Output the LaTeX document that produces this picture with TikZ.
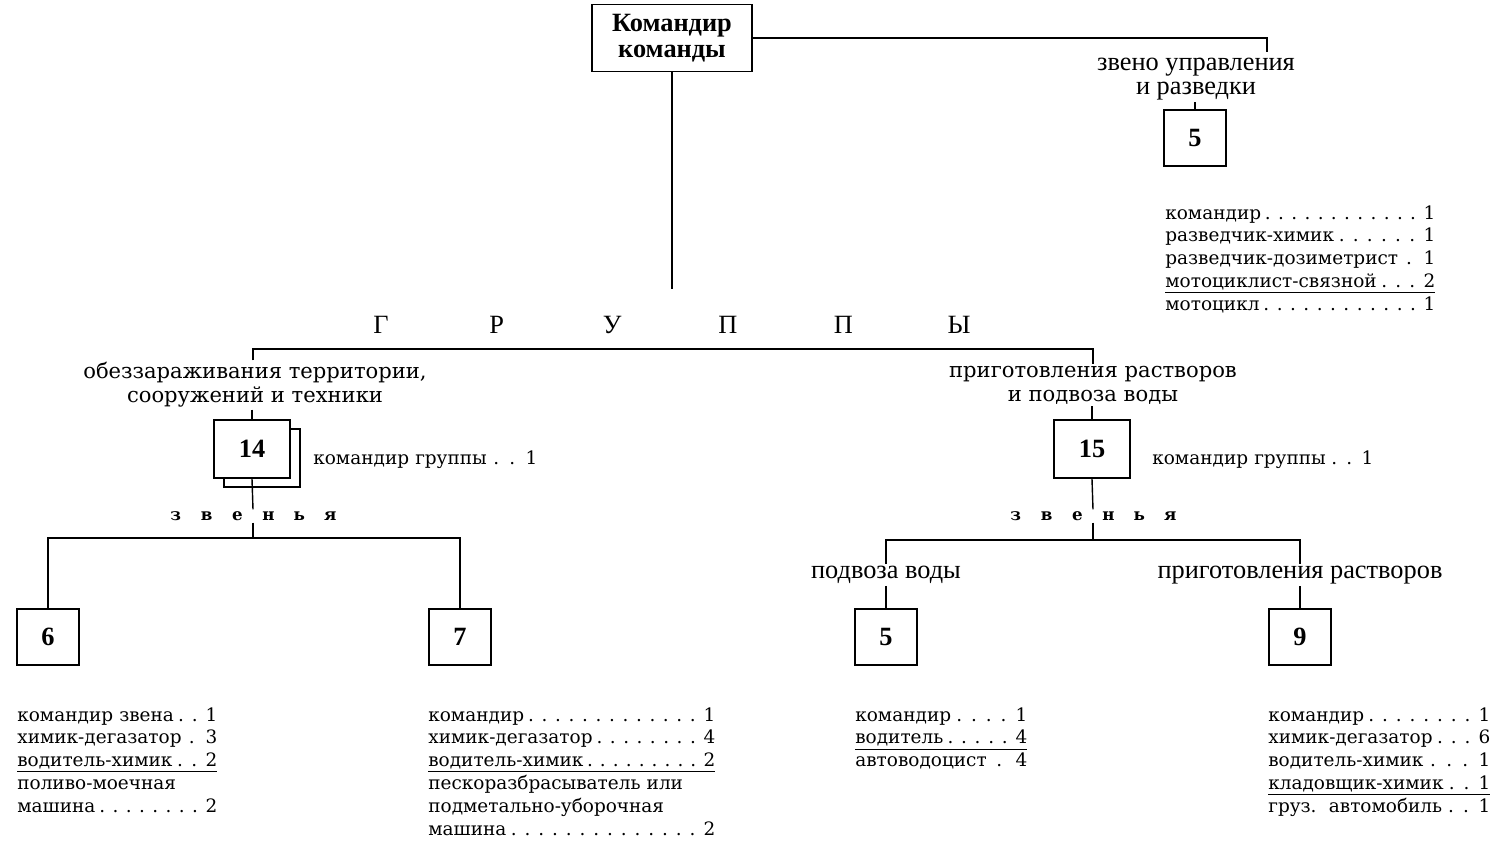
\documentclass[tikz,border=0pt]{standalone}
\usepackage{fontspec}
\setmainfont{Liberation Serif}
\newfontfamily\widefont{DejaVu Serif}
\usetikzlibrary{shadows}

\newcommand\dotsto{\xleaders\hbox to .7em{\hss.\hss}\hfill\hskip.2em\relax}
\newcommand\ulrow[1]{\underline{\hbox to\linewidth{#1}}}
\newcommand\zvenya{\foreach \c in {з,в,е,н,ь,я}{\makebox[17.6pt]{\c}}}

\tikzset{
  link/.style={line width=0.8pt},
  numbox/.style={draw, line width=1pt, fill=white, minimum width=1.24cm,
    minimum height=1.12cm, font=\fontsize{15}{15}\selectfont\bfseries},
  grpbox/.style={numbox, minimum width=1.52cm, minimum height=1.16cm},
  unitlabel/.style={align=center, inner sep=1pt, font=\fontsize{15}{14}\selectfont},
  grplabel/.style={align=center, inner sep=1pt, font=\widefont\fontsize{12}{13.6}\selectfont},
  roster/.style={anchor=north west, inner sep=0pt, text width=#1, align=left,
    font=\widefont\fontsize{10.5}{13}\selectfont},
  spaced/.style={inner sep=1pt, font=\widefont\fontsize{9.5}{10}\selectfont\bfseries},
}

\begin{document}
\begin{tikzpicture}[x=0.02cm, y=-0.02cm]
\useasboundingbox (0,0) rectangle (1499,841);

% head of the team
\node[draw, line width=1pt, minimum width=3.2cm, minimum height=1.34cm, align=center,
  font=\fontsize{15}{15}\selectfont\bfseries] (cmd) at (672,38) {Командир\\команды};

% control and reconnaissance section
\coordinate (zurtick) at (1267,52);
\node[unitlabel] (zur) at (1196,79) {звено управления\\и разведки};
\node[numbox] (b5a) at (1195,138) {5};
\node[roster=5.4cm] (lzur) at (1165,205) {%
  \mbox{командир}\dotsto 1\\
  \mbox{разведчик-химик}\dotsto 1\\
  \mbox{разведчик-дозиметрист}\dotsto 1\\
  \ulrow{мотоциклист-связной\dotsto 2}\\
  \mbox{мотоцикл}\dotsto 1};
\draw[link] (cmd.east) -- (cmd.east -| zurtick) -- (zurtick);
\draw[link] (b5a.north |- zur.south) -- (b5a.north);

% groups
\coordinate (grptop) at (672,289);
\node[font=\fontsize{15}{15}\selectfont] (grp) at (670,325)
  {\foreach \c in {Г,Р,У,П,П,Ы}{\makebox[65.8pt]{\c}}};
\draw[link] (cmd.south) -- (grptop);

\coordinate (grpl) at (253,349);
\coordinate (grpr) at (1093,349);
\node[grplabel] (obz) at (255,385) {обеззараживания территории,\\сооружений и техники};
\node[grplabel] (prg) at (1093,385) {приготовления растворов\\и подвоза воды};
\draw[link] (obz.north -| grpl) -- (grpl) -- (grpr) -- (prg.north);

\node[grpbox, copy shadow={shadow xshift=0.2cm, shadow yshift=-0.18cm}] (b14) at (252,449) {14};
\node[grpbox] (b15) at (1092,449) {15};
\node[roster=4.48cm, anchor=west] (k14) at (313,460) {командир группы\dotsto 1};
\node[roster=4.42cm, anchor=west] (k15) at (1152,460) {командир группы\dotsto 1};
\draw[link] (b14.north |- obz.south) -- (b14.north);
\draw[link] (b15.north |- prg.south) -- (b15.north);

% sections of group 14
\node[spaced] (zv1) at (253,516) {\zvenya};
\coordinate (zv1b) at (253,538);
\draw[link] (b14.south) -- (zv1.north);
\draw[link] (zv1.south) -- (zv1b);
\node[numbox] (b6) at (48,637) {6};
\node[numbox] (b7) at (460,637) {7};
\draw[link] (b6.north) |- (zv1b) -| (b7.north);

\node[roster=4cm] (l6) at (17,707) {%
  \mbox{командир звена}\dotsto 1\\
  \mbox{химик-дегазатор}\dotsto 3\\
  \ulrow{водитель-химик\dotsto 2}\\
  \mbox{поливо-моечная}\\
  \mbox{машина}\dotsto 2};
\node[roster=5.74cm] (l7) at (428,707) {%
  \mbox{командир}\dotsto 1\\
  \mbox{химик-дегазатор}\dotsto 4\\
  \ulrow{водитель-химик\dotsto 2}\\
  \mbox{пескоразбрасыватель или}\\
  \mbox{подметально-уборочная}\\
  \mbox{машина}\dotsto 2};

% sections of group 15
\node[spaced] (zv2) at (1093,516) {\zvenya};
\coordinate (zv2b) at (1093,540);
\draw[link] (b15.south) -- (zv2.north);
\draw[link] (zv2.south) -- (zv2b);
\node[unitlabel] (pv) at (886,575) {подвоза воды};
\node[unitlabel] (pr) at (1300,575) {приготовления растворов};
\draw[link] (pv.north) |- (zv2b) -| (pr.north);
\node[numbox] (b5b) at (886,637) {5};
\node[numbox] (b9) at (1300,637) {9};
\draw[link] (b5b.north |- pv.south) -- (b5b.north);
\draw[link] (b9.north |- pr.south) -- (b9.north);

\node[roster=3.44cm] (l5) at (855,707) {%
  \mbox{командир}\dotsto 1\\
  \ulrow{водитель\dotsto 4}\\
  \mbox{автоводоцист}\dotsto 4};
\node[roster=4.44cm] (l9) at (1268,707) {%
  \mbox{командир}\dotsto 1\\
  \mbox{химик-дегазатор}\dotsto 6\\
  \mbox{водитель-химик}\dotsto 1\\
  \ulrow{кладовщик-химик\dotsto 1}\\
  \mbox{груз.\ \ автомобиль}\dotsto 1};
\end{tikzpicture}
\end{document}
